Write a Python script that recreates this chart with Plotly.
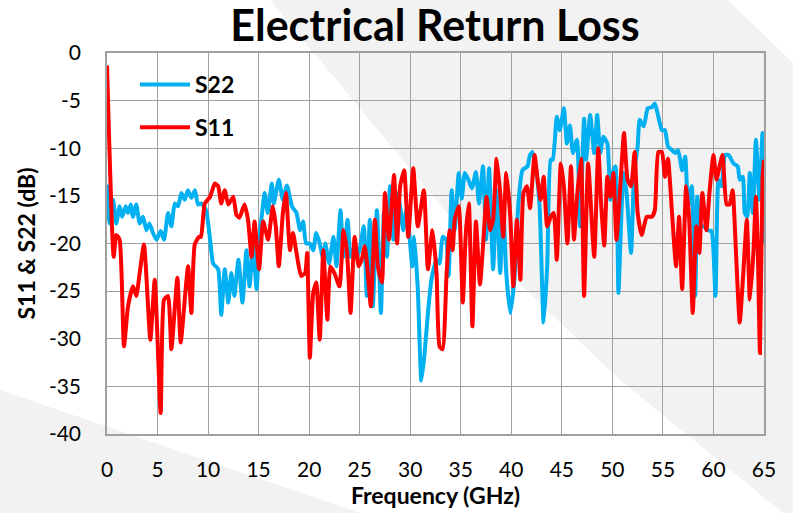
import plotly.graph_objects as go

# ---------------- data ----------------
s22_freq = [0.0, 0.1, 0.26, 0.6, 0.92, 1.25, 1.5, 1.85, 2.08, 2.34, 2.57, 2.9, 3.23, 3.56, 3.9, 4.2, 4.55, 4.9,
            5.3, 5.64, 6.04, 6.37, 6.7, 7.03, 7.36, 7.7, 8.0, 8.35, 8.7, 9.0, 9.3, 9.8, 10.2, 10.5, 11.0, 11.3,
            11.65, 12.0, 12.3, 12.6, 13.0, 13.4, 13.8, 14.1, 14.45, 14.8, 15.05, 15.3, 15.6, 15.9, 16.3, 16.5,
            17.0, 17.4, 17.8, 18.3, 18.75, 19.1, 19.4, 19.7, 20.07, 20.4, 20.7, 21.05, 21.4, 21.6, 21.97, 22.4,
            22.7, 23.1, 23.4, 23.8, 24.1, 24.5, 24.9, 25.4, 25.7, 26.0, 26.3, 26.7, 27.1, 27.4, 27.7, 28.0,
            28.35, 28.7, 29.0, 29.3, 29.6, 29.9, 30.2, 30.4, 30.75, 31.1, 31.4, 31.75, 32.1, 32.6, 32.9, 33.2,
            33.55, 33.8, 34.1, 34.4, 34.8, 35.1, 35.4, 35.75, 36.1, 36.5, 36.8, 37.2, 37.5, 37.8, 38.2, 38.55,
            38.9, 39.2, 39.5, 39.9, 40.3, 40.7, 41.1, 41.6, 41.85, 42.1, 42.5, 42.8, 43.2, 43.55, 43.9, 44.1,
            44.5, 44.8, 45.2, 45.5, 45.8, 46.1, 46.5, 46.8, 47.2, 47.4, 47.8, 48.2, 48.5, 48.8, 49.1, 49.5,
            49.8, 50.0, 50.3, 50.6, 50.8, 51.1, 51.4, 51.85, 52.15, 52.5, 52.7, 53.1, 53.5, 53.9, 54.2, 54.55,
            54.9, 55.2, 55.5, 55.9, 56.2, 56.5, 56.9, 57.2, 57.5, 57.85, 58.2, 58.4, 58.7, 59.1, 59.4, 59.8,
            60.2, 60.5, 60.8, 61.15, 61.5, 61.98, 62.4, 62.6, 62.9, 63.1, 63.35, 63.6, 63.9, 64.2, 64.55,
            64.85, 65.0]
s22_db = [-17.5, -14.0, -17.9, -15.4, -17.9, -16.1, -17.2, -16.1, -16.8, -15.9, -17.2, -15.9, -17.9, -17.2,
          -18.6, -17.9, -18.9, -19.6, -18.7, -19.6, -16.8, -18.2, -15.8, -16.1, -14.7, -15.4, -14.4, -15.2,
          -14.4, -15.9, -15.8, -16.5, -19.6, -22.1, -22.7, -27.5, -22.7, -26.2, -23.1, -25.5, -21.7, -26.2,
          -20.7, -24.5, -20.3, -24.8, -20.0, -17.2, -14.7, -16.8, -13.7, -15.8, -13.3, -15.4, -13.9, -16.1,
          -16.8, -18.6, -17.7, -20.0, -20.0, -20.7, -18.9, -20.0, -21.7, -20.0, -22.1, -19.3, -22.4, -16.5,
          -21.4, -17.5, -21.4, -20.3, -21.0, -18.2, -25.5, -17.5, -26.6, -16.5, -27.3, -16.8, -21.4, -14.0,
          -19.6, -14.7, -16.1, -18.6, -16.5, -18.9, -22.4, -19.3, -24.8, -34.4, -31.8, -27.3, -23.8, -21.7,
          -22.1, -19.3, -19.6, -23.4, -14.4, -18.6, -12.6, -15.3, -12.6, -13.3, -14.2, -12.5, -15.8, -11.9,
          -19.6, -12.1, -22.7, -14.4, -23.1, -16.1, -23.1, -27.3, -23.8, -15.8, -12.3, -11.9, -10.7, -10.4,
          -12.6, -16.1, -28.3, -22.4, -11.2, -11.2, -6.7, -8.1, -5.8, -9.5, -7.6, -10.5, -9.1, -18.2, -6.9,
          -11.2, -6.5, -10.5, -6.5, -10.5, -8.8, -9.5, -15.4, -12.6, -11.9, -25.2, -19.6, -12.6, -14.7, -21.0,
          -12.6, -9.8, -7.0, -7.7, -5.8, -5.7, -5.3, -6.7, -8.1, -8.1, -9.8, -10.2, -10.5, -10.2, -12.3,
          -10.9, -16.1, -14.0, -25.5, -15.1, -18.2, -18.2, -18.6, -18.7, -25.5, -13.3, -14.0, -10.7, -10.7,
          -11.6, -11.9, -13.3, -13.0, -16.8, -17.2, -12.6, -16.8, -9.1, -15.4, -8.4, -20.0]

s11_freq = [0.0, 0.66, 0.92, 1.25, 1.68, 2.08, 2.57, 2.9, 3.23, 3.66, 4.29, 4.72, 5.31, 5.64, 6.04, 6.37, 6.96,
            7.29, 8.02, 8.35, 8.68, 9.11, 9.3, 9.67, 10.2, 10.66, 11.0, 11.3, 11.65, 12.0, 12.5, 12.8, 13.1,
            13.6, 13.95, 14.3, 14.6, 15.05, 15.45, 15.94, 16.4, 16.7, 17.0, 17.4, 17.7, 18.1, 18.4, 18.75, 19.2,
            19.6, 19.8, 20.07, 20.4, 20.7, 21.05, 21.4, 21.8, 22.1, 22.5, 23.0, 23.4, 23.75, 24.1, 24.5, 24.9,
            25.2, 25.5, 25.75, 26.1, 26.5, 26.8, 27.2, 27.5, 27.9, 28.4, 28.7, 29.0, 29.4, 29.8, 30.3, 30.75,
            31.35, 31.75, 32.2, 32.6, 32.9, 33.2, 33.6, 33.9, 34.2, 34.4, 34.8, 35.2, 35.5, 35.8, 36.15, 36.5,
            36.9, 37.2, 37.55, 37.9, 38.2, 38.55, 38.9, 39.2, 39.5, 39.9, 40.2, 40.55, 40.9, 41.2, 41.55, 41.85,
            42.3, 42.6, 42.9, 43.2, 43.55, 43.9, 44.2, 44.5, 44.9, 45.2, 45.55, 45.9, 46.2, 46.5, 46.9, 47.2,
            47.6, 48.2, 48.6, 48.9, 49.2, 49.5, 49.8, 50.1, 50.4, 50.8, 51.15, 51.5, 51.85, 52.2, 52.5, 52.9,
            53.4, 53.9, 54.2, 54.55, 54.9, 55.2, 55.5, 55.9, 56.3, 56.6, 56.9, 57.3, 57.6, 57.95, 58.3, 58.6,
            58.9, 59.3, 59.6, 60.0, 60.3, 60.6, 60.9, 61.3, 61.6, 61.9, 62.2, 62.6, 62.95, 63.3, 63.6, 63.95,
            64.2, 64.4, 64.6, 64.85, 65.0]
s11_db = [-1.3, -21.4, -19.1, -19.6, -30.8, -26.6, -24.5, -25.5, -23.1, -20.1, -30.1, -23.8, -37.8, -25.9, -25.5,
          -31.1, -23.6, -30.4, -22.4, -27.3, -20.1, -19.3, -19.3, -15.8, -15.1, -13.7, -14.0, -15.8, -14.4,
          -15.9, -15.1, -17.0, -17.3, -15.9, -17.5, -21.4, -17.7, -22.7, -17.7, -19.6, -16.1, -18.2, -22.4,
          -16.8, -14.7, -20.7, -18.9, -21.0, -23.4, -23.1, -21.0, -32.0, -25.2, -24.1, -30.1, -20.7, -28.0,
          -22.4, -23.1, -24.5, -18.6, -21.0, -27.3, -19.3, -22.4, -21.7, -20.3, -22.4, -26.6, -17.5, -22.4,
          -24.1, -14.7, -19.6, -12.8, -20.0, -14.0, -12.3, -19.3, -12.1, -18.2, -14.4, -22.7, -18.6, -23.1,
          -30.8, -31.1, -23.1, -18.6, -20.7, -17.5, -16.1, -26.2, -18.9, -15.8, -28.7, -17.7, -24.3, -20.3,
          -15.1, -18.6, -17.5, -11.1, -14.7, -19.3, -12.6, -17.2, -24.5, -17.5, -23.8, -14.7, -14.0, -16.3,
          -10.7, -13.3, -15.4, -13.0, -18.2, -17.2, -16.8, -21.7, -11.6, -14.0, -20.0, -11.9, -19.6, -15.1,
          -11.1, -25.5, -11.6, -21.4, -10.0, -16.1, -20.2, -13.0, -15.1, -12.6, -19.6, -13.7, -8.4, -13.3,
          -14.0, -10.4, -16.8, -19.1, -17.2, -17.2, -16.5, -10.4, -10.4, -13.0, -11.1, -16.8, -22.4, -17.2,
          -24.8, -14.0, -17.5, -27.3, -18.2, -21.0, -14.7, -18.6, -14.7, -10.7, -13.3, -11.9, -10.7, -15.9,
          -15.9, -14.4, -20.3, -28.3, -23.1, -17.5, -25.9, -21.0, -15.1, -21.4, -31.5, -13.3, -11.2]

x_ticks = [0, 5, 10, 15, 20, 25, 30, 35, 40, 45, 50, 55, 60, 65]
y_ticks = [0, -5, -10, -15, -20, -25, -30, -35, -40]

series_names = ["S22", "S11"]
series_colors = ["#00B0F0", "#FF0000"]

# ---------------- figure ----------------
W, H = 793, 513
ML, MR, MT, MB = 107, 29, 53, 79
PW, PH = W - ML - MR, H - MT - MB


def px_to_paper(px, py):
    return (px - ML) / PW, (H - MB - py) / PH


def poly_path(points):
    pts = [px_to_paper(x, y) for x, y in points]
    return "M " + " L ".join(f"{x:.4f},{y:.4f}" for x, y in pts) + " Z"


bg_gray = "#F2F2F2"
bg_shapes = [
    dict(type="path", xref="paper", yref="paper", layer="below",
         path=poly_path([(270, 0), (728, 0), (793, 63), (793, 513), (783, 513), (620, 380), (450, 217)]),
         fillcolor=bg_gray, line=dict(width=0)),
    dict(type="path", xref="paper", yref="paper", layer="below",
         path=poly_path([(0, 390), (360, 513), (0, 513)]),
         fillcolor=bg_gray, line=dict(width=0)),
]

fig = go.Figure()
for name, fx, fy, col, grp in [
    (series_names[0], s22_freq, s22_db, series_colors[0], "a"),
    (series_names[1], s11_freq, s11_db, series_colors[1], "b"),
]:
    fig.add_trace(go.Scatter(
        x=fx, y=fy, mode="lines", name=name, legendgroup=grp,
        line=dict(color=col, width=4, shape="spline", smoothing=0.5),
    ))

FONT = "Lato, 'Open Sans', sans-serif"
grid_col = "#A0A0A0"

fig.update_layout(
    width=W, height=H,
    margin=dict(l=ML, r=MR, t=MT, b=MB, autoexpand=False),
    paper_bgcolor="white",
    plot_bgcolor="rgba(0,0,0,0)",
    font=dict(family=FONT, color="#000000", size=21),
    title=dict(text="Electrical Return Loss", x=435 / W, xanchor="center",
               y=1 - 26 / H, yanchor="middle", yref="container",
               font=dict(family=FONT, size=43, weight="bold", color="#000000")),
    shapes=bg_shapes,
    showlegend=True,
    legend=dict(x=(135 - ML) / PW, y=(H - MB - 63) / PH, xanchor="left", yanchor="top",
                bgcolor="rgba(0,0,0,0)", borderwidth=0,
                font=dict(family=FONT, size=23, weight="bold", color="#000000"),
                traceorder="grouped", tracegroupgap=10, itemwidth=50),
    xaxis=dict(range=[0, 65], tickvals=x_ticks, ticktext=[str(v) for v in x_ticks],
               automargin=False,
               showgrid=True, gridcolor=grid_col, gridwidth=1.3, zeroline=False,
               showline=True, linecolor=grid_col, linewidth=1.5, mirror=True,
               ticks="", ticklabelstandoff=16,
               tickfont=dict(family=FONT, size=21, color="#000000"),
               title=dict(text="Frequency (GHz)", standoff=1,
                          font=dict(family=FONT, size=23, weight="bold", color="#000000"))),
    yaxis=dict(range=[-40, 0], tickvals=y_ticks, ticktext=[str(v) for v in y_ticks],
               automargin=False,
               showgrid=True, gridcolor=grid_col, gridwidth=1.3, zeroline=False,
               showline=True, linecolor=grid_col, linewidth=1.5, mirror=True,
               ticks="", ticklabelstandoff=20,
               tickfont=dict(family=FONT, size=21, color="#000000"),
               title=dict(text="S11 & S22 (dB)", standoff=7,
                          font=dict(family=FONT, size=23, weight="bold", color="#000000"))),
)

fig.write_html("out.html", config={"displayModeBar": False},
               post_script="document.body.style.margin='0';document.body.style.padding='0';")
